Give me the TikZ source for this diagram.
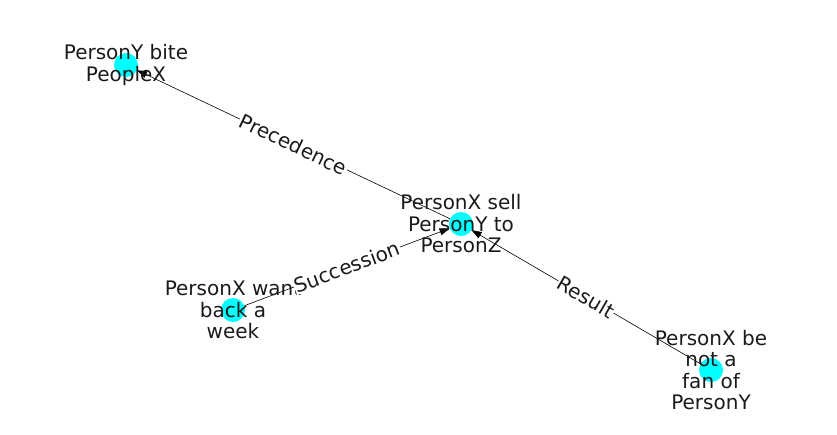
\documentclass[tikz,border=0pt]{standalone}
\usepackage{fontspec}
\setmainfont{DejaVu Sans}
\usetikzlibrary{arrows.meta}
\definecolor{nodecyan}{RGB}{0,255,255}
\definecolor{txt}{RGB}{26,26,26}
\begin{document}
\begin{tikzpicture}[x=1pt,y=-1pt,
 dot/.style={circle,fill=nodecyan,minimum size=24pt,inner sep=0pt},
 lbl/.style={align=center,font=\fontsize{20}{21.5}\selectfont,text=txt},
 elbl/.style={fill=white,inner sep=1pt,sloped,font=\fontsize{20}{21.5}\selectfont,text=txt},
 edge/.style={draw=black,line width=0.6pt,-{Triangle[length=10pt,width=7pt]}}]
\useasboundingbox (0,0) rectangle (837,434);
\node[dot] (y) at (126,65) {};
\node[dot] (c) at (461,224) {};
\node[dot] (w) at (233,310) {};
\node[dot] (f) at (711,370) {};
\draw[edge] (c) -- (y);
\draw[edge] (w) -- (c);
\draw[edge] (f) -- (c);
\node[lbl] (ly) at (126,65) {PersonY bite\\PeopleX};
\node[lbl] (lc) at (461,224) {PersonX sell\\PersonY to\\PersonZ};
\node[lbl] (lw) at (233,310) {PersonX want\\back a\\week};
\node[lbl] (lf) at (711,370) {PersonX be\\not a\\fan of\\PersonY};
\path (y) -- (c) node[midway,elbl] (e1) {Precedence};
\path (w) -- (c) node[midway,elbl] (e2) {Succession};
\path (c) -- (f) node[midway,elbl] (e3) {Result};
\end{tikzpicture}
\end{document}
